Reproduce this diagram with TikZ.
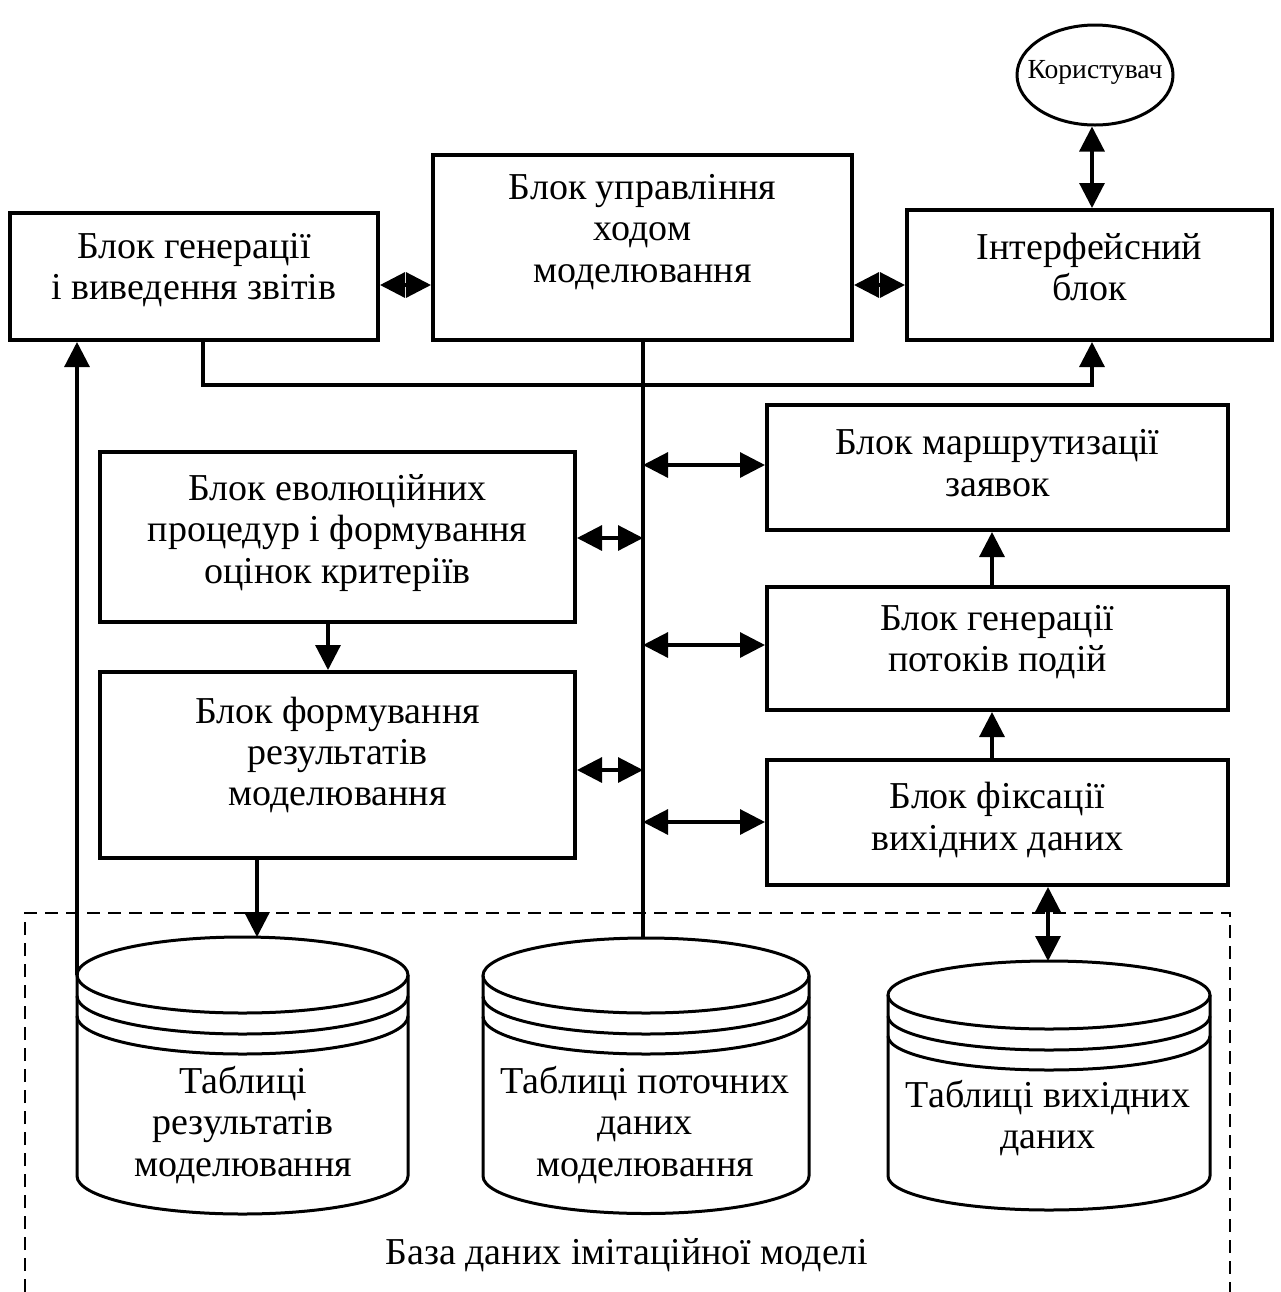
\documentclass[tikz,border=0pt]{standalone}
\usepackage{fontspec}
\setmainfont{Liberation Serif}
\usetikzlibrary{arrows.meta,shapes.geometric}
\tikzset{
  boxnode/.style={draw, line width=2pt, rectangle, inner sep=0pt},
  txt/.style={align=center, inner sep=0pt, font=\fontsize{19}{20.7}\selectfont},
  conn/.style={line width=1.6pt},
  arr/.style={conn, -{Triangle[length=12.5pt,width=12.5pt]}},
  dbl/.style={conn, {Triangle[length=12.5pt,width=12.5pt]}-{Triangle[length=12.5pt,width=12.5pt]}},
  cylline/.style={line width=1.5pt},
  dbframe/.style={line width=1.3pt, dash pattern=on 6.5pt off 4pt},
}
\newcommand{\dbcyl}[6]{%
  \pgfmathsetmacro{\cxl}{#2-#4}%
  \pgfmathsetmacro{\cxr}{#2+#4}%
  \pgfmathsetmacro{\ytop}{#3-#5}%
  \pgfmathsetmacro{\rimA}{#3+21}%
  \pgfmathsetmacro{\rimB}{#3+41}%
  \coordinate (#1-top) at (#2,\ytop);
  \coordinate (#1-west) at (\cxl,#3);
  \draw[cylline] (#2,#3) ellipse[x radius=#4, y radius=#5];
  \draw[cylline] (\cxl,#3) -- (\cxl,#6) arc[start angle=180, end angle=0, x radius=#4, y radius=#5] -- (\cxr,#3);
  \draw[cylline] (\cxl,\rimA) arc[start angle=180, end angle=0, x radius=#4, y radius=#5];
  \draw[cylline] (\cxl,\rimB) arc[start angle=180, end angle=0, x radius=#4, y radius=#5];
}
\begin{document}
\begin{tikzpicture}[x=0.5pt,y=-0.5pt]
\useasboundingbox (0,0) rectangle (1281,1292);

% user
\node[draw, ellipse, line width=1.5pt, minimum width=78pt, minimum height=50pt, inner sep=0pt] (user) at (1095,75) {};
\node[txt, font=\fontsize{13.8}{16}\selectfont] (userT) at (1095,72) {Користувач};

% boxes
\node[boxnode, minimum width=184pt, minimum height=63.5pt] (rep) at (194,276.5) {};
\node[txt] (repT) at (194,270) {Блок генерації\\і виведення звітів};

\node[boxnode, minimum width=209.5pt, minimum height=92.5pt] (ctrl) at (642.5,247.5) {};
\node[txt] (ctrlT) at (642.5,232) {Блок управління\\ходом\\моделювання};

\node[boxnode, minimum width=182.5pt, minimum height=65pt] (intf) at (1089.5,275) {};
\node[txt] (intfT) at (1089.5,267) {Інтерфейсний\\блок};

\node[boxnode, minimum width=230.5pt, minimum height=62.5pt] (route) at (997.5,467.5) {};
\node[txt] (routeT) at (997.5,463) {Блок маршрутизації\\заявок};

\node[boxnode, minimum width=237.5pt, minimum height=85pt] (evol) at (337.5,537) {};
\node[txt] (evolT) at (337.5,533) {Блок еволюційних\\процедур і формування\\оцінок критеріїв};

\node[boxnode, minimum width=237.5pt, minimum height=93pt] (res) at (337.5,765) {};
\node[txt] (resT) at (337.5,755) {Блок формування\\результатів\\моделювання};

\node[boxnode, minimum width=230.5pt, minimum height=61.5pt] (gen) at (997.5,648.5) {};
\node[txt] (genT) at (997.5,642) {Блок генерації\\потоків подій};

\node[boxnode, minimum width=230.5pt, minimum height=62.5pt] (fix) at (997.5,822.5) {};
\node[txt] (fixT) at (997.5,820) {Блок фіксації\\вихідних даних};

% database frame
\coordinate (fBL) at (25,1292);
\coordinate (fTL) at (25,913);
\coordinate (fTR) at (1230,913);
\coordinate (fBR) at (1230,1292);
\draw[dbframe] (fBL) -- (fTL) -- (fTR) -- (fBR);
\node[txt] (dbT) at (627,1255) {База даних імітаційної моделі};

% cylinders
\dbcyl{cylL}{242.5}{975}{165.5}{38}{1176}
\dbcyl{cylM}{646}{975.5}{163}{37.5}{1176}
\dbcyl{cylR}{1049}{995}{161}{34}{1176}
\node[txt] (cylLT) at (243,1125) {Таблиці\\результатів\\моделювання};
\node[txt] (cylMT) at (645,1125) {Таблиці поточних\\даних\\моделювання};
\node[txt] (cylRT) at (1048,1118) {Таблиці вихідних\\даних};

% coordinates for connectors
\coordinate (yTop) at (0,285);
\coordinate (busX) at (643,0);
\coordinate (bRoute) at (643,465);
\coordinate (bEvol) at (643,538);
\coordinate (bGen) at (643,645);
\coordinate (bRes) at (643,770);
\coordinate (bFix) at (643,822);
\coordinate (loopA) at (203,385);
\coordinate (loopB) at (1092,385);
\coordinate (xEv) at (328,0);
\coordinate (xUp) at (992,0);
\coordinate (xRes) at (257,0);
\coordinate (xFix) at (1048,0);
\coordinate (xUser) at (1092,0);

% top connectors
\draw[dbl] (rep.east |- yTop) -- (ctrl.west |- yTop);
\draw[dbl] (ctrl.east |- yTop) -- (intf.west |- yTop);
\draw[dbl] (user.south -| xUser) -- (intf.north -| xUser);
\draw[arr] (rep.south -| loopA) -- (loopA) -- (loopB) -- (intf.south -| loopB);
\draw[arr] (cylL-west) -- (rep.south -| cylL-west);

% bus
\draw[conn] (ctrl.south -| busX) -- (cylM-top -| busX);
\draw[dbl] (bRoute) -- (route.west |- bRoute);
\draw[dbl] (evol.east |- bEvol) -- (bEvol);
\draw[dbl] (bGen) -- (gen.west |- bGen);
\draw[dbl] (res.east |- bRes) -- (bRes);
\draw[dbl] (bFix) -- (fix.west |- bFix);

% vertical arrows
\draw[arr] (evol.south -| xEv) -- (res.north -| xEv);
\draw[arr] (gen.north -| xUp) -- (route.south -| xUp);
\draw[arr] (fix.north -| xUp) -- (gen.south -| xUp);
\draw[arr] (res.south -| xRes) -- (cylL-top -| xRes);
\draw[dbl] (fix.south -| xFix) -- (cylR-top -| xFix);
\end{tikzpicture}
\end{document}
